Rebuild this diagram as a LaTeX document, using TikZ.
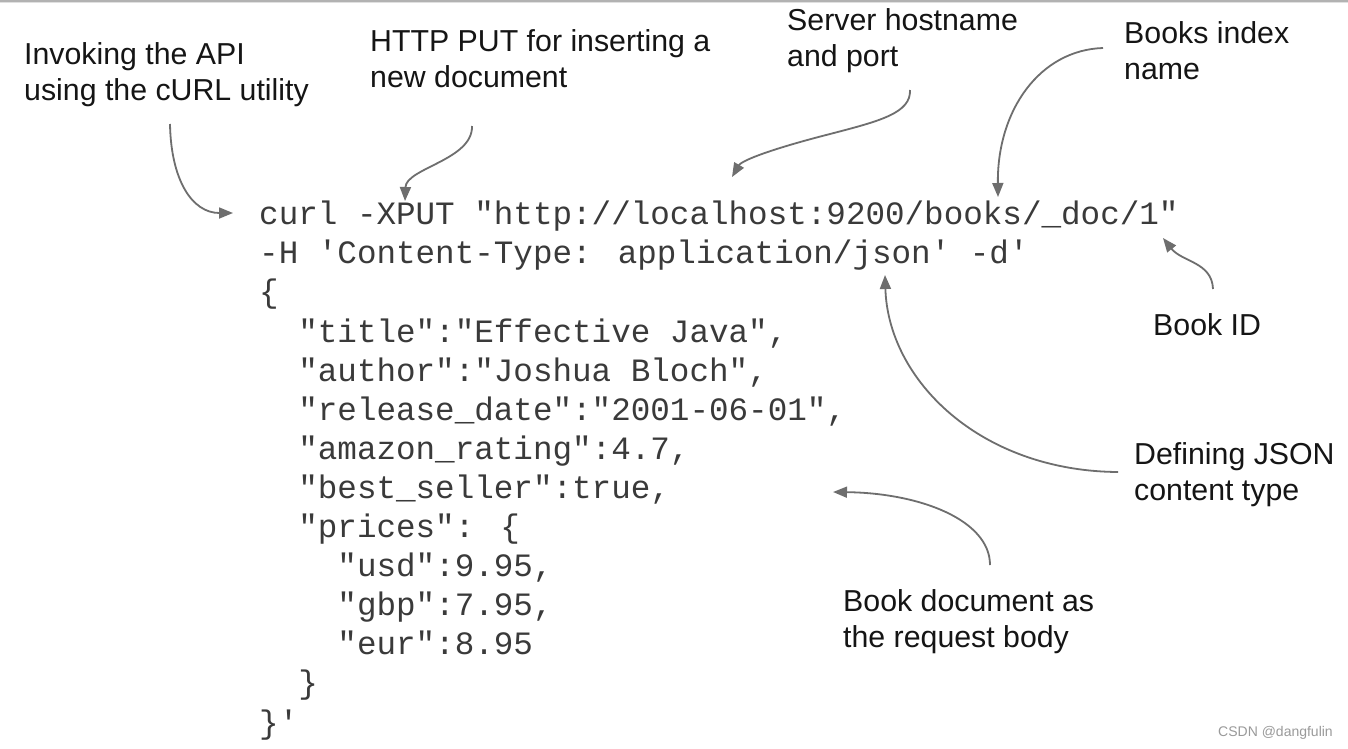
\documentclass[tikz,border=0pt]{standalone}
\usepackage{fontspec}
\setmainfont{Liberation Sans}
\newfontfamily\codefont{Liberation Mono}
\usetikzlibrary{arrows.meta}
\definecolor{arrowgray}{HTML}{6E6E6E}
\definecolor{codegray}{HTML}{3A3A3A}
\definecolor{labelblack}{HTML}{151515}
\definecolor{markgray}{HTML}{9A9A9A}
\tikzset{
  lbl/.style={font=\fontsize{30.3}{36}\selectfont, text=labelblack, align=left, anchor=base west, inner sep=0pt},
  codeblock/.style={font=\codefont\fontsize{32.6}{39.1}\selectfont, text=codegray, align=left, anchor=base west, inner sep=0pt},
  arr/.style={draw=arrowgray, line width=1.8pt, -{Triangle[length=14pt,width=11pt]}, fill=none},
  wmark/.style={font=\fontsize{14}{16}\selectfont, text=markgray, anchor=base west, inner sep=0pt}
}
\begin{document}
\begin{tikzpicture}[x=1pt,y=-1pt]
\useasboundingbox (0,0) rectangle (1348,748);
\fill[white] (0,0) rectangle (1348,748);
\fill[black!30] (0,0) rectangle (1348,1.5);
\fill[black!12] (0,1.5) rectangle (1348,3);

% code (anchor base = baseline of the last line)
\node[codeblock] (code) at (259,733) {curl -XPUT "http://localhost:9200/books/\_doc/1"\\
-H 'Content-Type: application/json' -d'\\
\{\\
\hspace*{1.2em}"title":"Effective Java",\\
\hspace*{1.2em}"author":"Joshua Bloch",\\
\hspace*{1.2em}"release\_date":"2001-06-01",\\
\hspace*{1.2em}"amazon\_rating":4.7,\\
\hspace*{1.2em}"best\_seller":true,\\
\hspace*{1.2em}"prices": \{\\
\hspace*{2.4em}"usd":9.95,\\
\hspace*{2.4em}"gbp":7.95,\\
\hspace*{2.4em}"eur":8.95\\
\hspace*{1.2em}\}\\
\}'};

% labels (anchor base = baseline of the last line)
\node[lbl] (l1) at (24,100) {Invoking the API\\using the cURL utility};
\node[lbl] (l2) at (370,87) {HTTP PUT for inserting a\\new document};
\node[lbl] (l3) at (787,66) {Server hostname\\and port};
\node[lbl] (l4) at (1124,79) {Books index\\name};
\node[lbl] (l5) at (1153,335) {Book ID};
\node[lbl] (l6) at (1134,500) {Defining JSON\\content type};
\node[lbl] (l7) at (843,647) {Book document as\\the request body};
\node[wmark] (wm) at (1218,736) {CSDN @dangfulin};

% arrow end points
\coordinate (s1) at (170,124);  \coordinate (t1) at (233,213);
\coordinate (s2) at (472,126);  \coordinate (t2) at (405,201);
\coordinate (s3) at (910,90);   \coordinate (t3) at (732,177);
\coordinate (s4) at (1103,48);  \coordinate (t4) at (998,197);
\coordinate (s5) at (1213,289); \coordinate (t5) at (1163,238);
\coordinate (s6) at (1118,472); \coordinate (t6) at (885,275);
\coordinate (s7) at (990,565);  \coordinate (t7) at (833,492);

\draw[arr] (s1) .. controls (171,180) and (192,213) .. (t1);
\draw[arr] (s2) .. controls (473,160) and (406,168) .. (t2);
\draw[arr] (s3) .. controls (911,113) and (880,121) .. (830,134) .. controls (775,148) and (742,160) .. (t3);
\draw[arr] (s4) .. controls (1040,50) and (997,110) .. (t4);
\draw[arr] (s5) .. controls (1212,262) and (1182,262) .. (t5);
\draw[arr] (s6) .. controls (980,471) and (888,380) .. (t6);
\draw[arr] (s7) .. controls (990,520) and (920,493) .. (t7);
\end{tikzpicture}
\end{document}
